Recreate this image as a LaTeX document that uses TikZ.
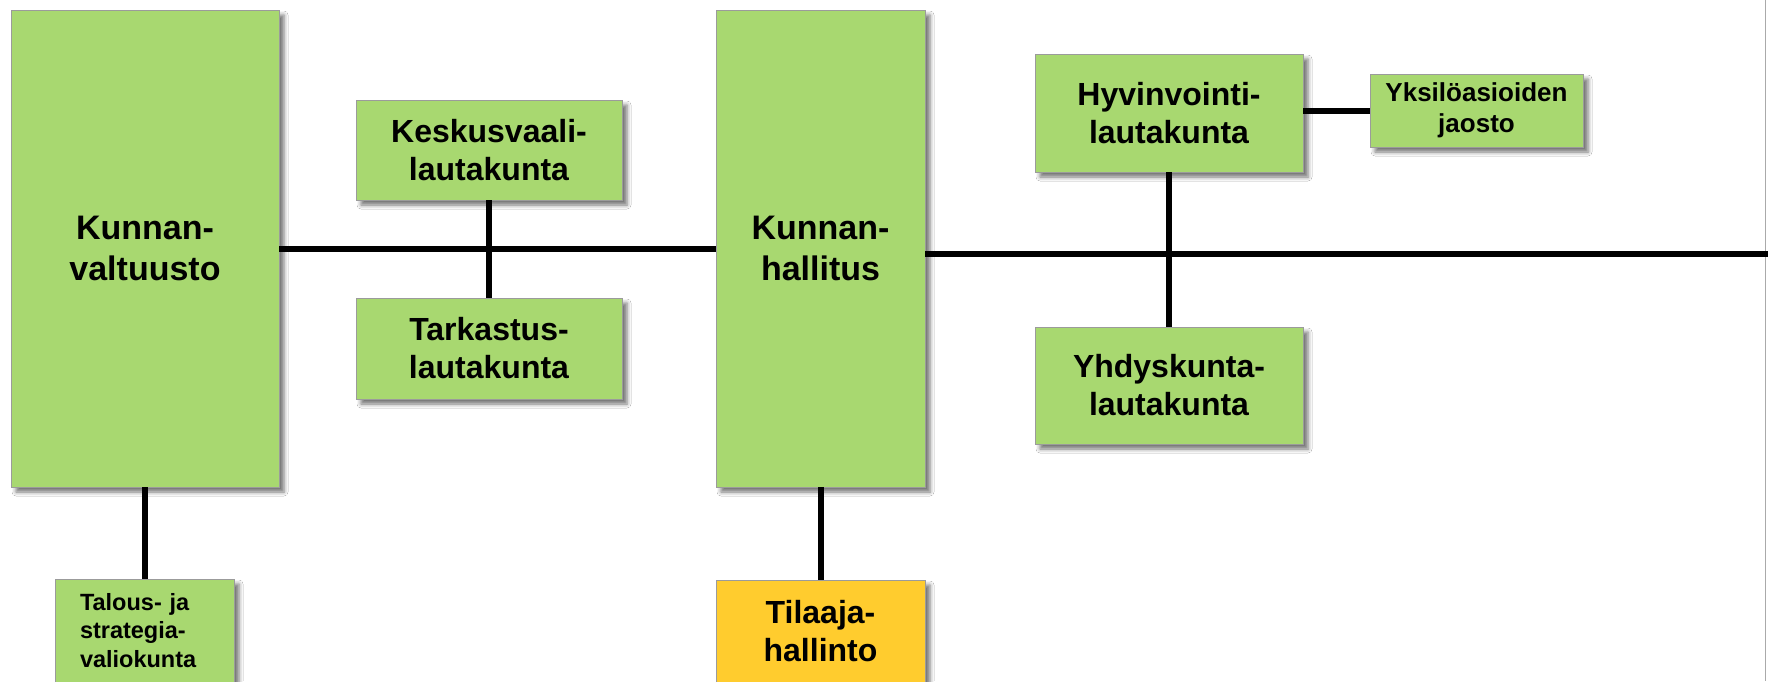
\documentclass[tikz,border=0pt]{standalone}
\usepackage{fontspec}
\setmainfont{Liberation Sans}
\usetikzlibrary{shadows.blur}
\definecolor{boxgreen}{RGB}{168,216,112}
\definecolor{boxorange}{RGB}{255,204,46}
\definecolor{boxedge}{RGB}{155,155,155}
\definecolor{pageedge}{RGB}{170,170,170}
\begin{document}
\begin{tikzpicture}[x=1pt,y=-1pt,
  orgbox/.style={draw=boxedge, line width=0.8pt, fill=boxgreen, inner sep=0pt, outer sep=0pt, align=center,
    blur shadow={shadow xshift=5pt, shadow yshift=-5pt, shadow blur radius=4pt, shadow opacity=55}},
  bigtext/.style={font=\bfseries\fontsize{34}{41}\selectfont},
  midtext/.style={font=\bfseries\fontsize{32}{38}\selectfont},
  smalltext/.style={font=\bfseries\fontsize{26}{31}\selectfont},
  tinytext/.style={font=\bfseries\fontsize{23.5}{28.5}\selectfont},
  conn/.style={line width=6pt, black}]
\clip (0,0) rectangle (1768,681);
\fill[white] (0,0) rectangle (1768,681);
\draw[pageedge, line width=1.5pt] (1765.5,0) -- (1765.5,681);

\node[orgbox, bigtext, minimum width=268pt, minimum height=477pt] (kv) at (145,248.5) {Kunnan-\\valtuusto};
\node[orgbox, midtext, minimum width=266pt, minimum height=100pt] (kes) at (489,150) {Keskusvaali-\\lautakunta};
\node[orgbox, midtext, minimum width=266pt, minimum height=101pt] (tar) at (489,348.5) {Tarkastus-\\lautakunta};
\node[orgbox, bigtext, minimum width=209pt, minimum height=477pt] (kh) at (820.5,248.5) {Kunnan-\\hallitus};
\node[orgbox, midtext, minimum width=268pt, minimum height=118pt] (hy) at (1169,113) {Hyvinvointi-\\lautakunta};
\node[orgbox, midtext, minimum width=268pt, minimum height=117pt] (yh) at (1169,385.5) {Yhdyskunta-\\lautakunta};
\node[orgbox, smalltext, minimum width=213pt, minimum height=73pt] (yk) at (1476.5,110.5) {Yksilöasioiden\\jaosto};
\node[orgbox, tinytext, inner xsep=25pt, text width=129pt, align=left, minimum height=103pt] (ta) at (144.5,630.5) {Talous- ja\\strategia-\\valiokunta};
\node[orgbox, midtext, fill=boxorange, minimum width=209pt, minimum height=102pt] (ti) at (820.5,631) {Tilaaja-\\hallinto};

\coordinate (rend) at (1768,254);

\draw[conn] (kv.east) -- (kh.west);
\draw[conn] (kes.south) -- (tar.north);
\draw[conn] (kh.east |- rend) -- (rend);
\draw[conn] (hy.south) -- (yh.north);
\draw[conn] (yk.west -| hy.east) -- (yk.west);
\draw[conn] (kv.south) -- (kv.south |- ta.north);
\draw[conn] (kh.south) -- (ti.north);
\end{tikzpicture}
\end{document}
